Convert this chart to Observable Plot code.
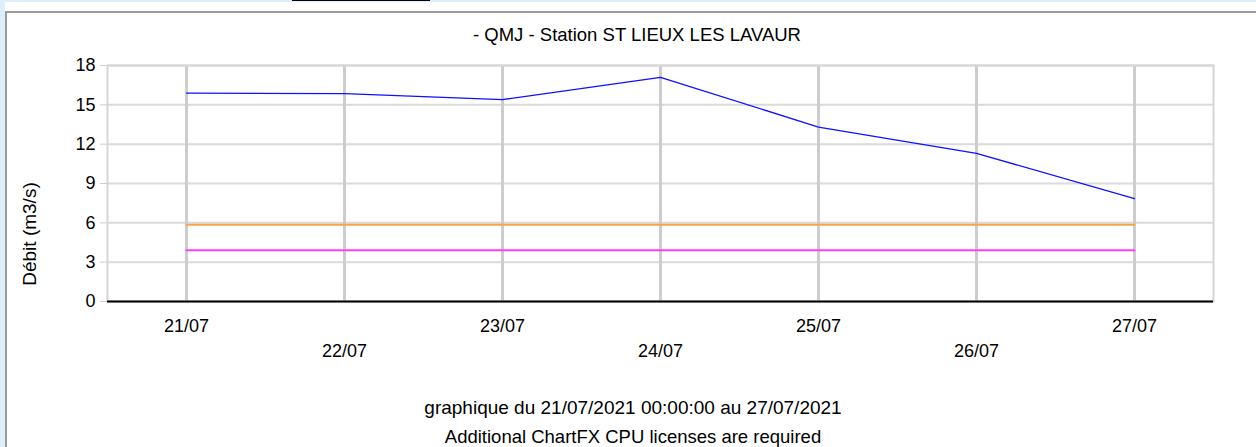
<!DOCTYPE html>
<html>
<head>
<meta charset="utf-8">
<script src="https://cdn.jsdelivr.net/npm/d3@7"></script>
<script src="https://cdn.jsdelivr.net/npm/@observablehq/plot@0.6"></script>
<style>
  html, body { margin: 0; padding: 0; width: 1256px; height: 447px; overflow: hidden; background: #ddeefc; font-family: "Liberation Sans", Arial, sans-serif; }
  #topwhite { position: absolute; left: 5px; top: 2px; right: 0; height: 9px; background: #ffffff; }
  #uline { position: absolute; left: 292px; top: 0px; width: 138px; height: 1px; background: #000; }
  #frame { position: absolute; left: 5px; top: 11px; right: 0; bottom: 0; background: #fff; border-left: 2px solid #9a9a9a; border-top: 2px solid #9a9a9a; }
  #chart { position: absolute; left: 7px; top: 13px; }
  #chart svg { background: transparent !important; }
  .txt { position: absolute; color: #000; white-space: nowrap; text-align: center; }
  #title { left: 0; width: 1274px; top: 25px; font-size: 18.5px; line-height: 20px; }
  #ylabel { left: 30px; top: 234px; font-size: 19px; line-height: 20px; transform: translate(-50%, -50%) rotate(-90deg); }
  #cap1 { left: 0; width: 1266px; top: 398px; font-size: 19px; line-height: 20px; }
  #cap2 { left: 0; width: 1266px; top: 427px; font-size: 18.5px; line-height: 19px; }
</style>
</head>
<body>
<div id="topwhite"></div>
<div id="uline"></div>
<div id="frame"></div>
<div id="chart"></div>
<div class="txt" id="title">- QMJ - Station ST LIEUX LES LAVAUR</div>
<div class="txt" id="ylabel">Débit (m3/s)</div>
<div class="txt" id="cap1">graphique du 21/07/2021 00:00:00 au 27/07/2021</div>
<div class="txt" id="cap2">Additional ChartFX CPU licenses are required</div>
<script>
// ---- data ----
const days = ["21/07", "22/07", "23/07", "24/07", "25/07", "26/07", "27/07"];
const qmj = [15.9, 15.85, 15.4, 17.1, 13.3, 11.3, 7.85];
const seuilOrange = [5.85, 5.85, 5.85, 5.85, 5.85, 5.85, 5.85];
const seuilRose = [3.9, 3.9, 3.9, 3.9, 3.9, 3.9, 3.9];
const yTicks = [0, 3, 6, 9, 12, 15, 18];
const xTicksRow1 = ["21/07", "23/07", "25/07", "27/07"];
const xTicksRow2 = ["22/07", "24/07", "26/07"];

const rows = (vals) => days.map((d, i) => ({day: d, v: vals[i]}));

const chart = Plot.plot({
  width: 1249,
  height: 357,
  marginLeft: 100,
  marginRight: 43,
  marginTop: 52,
  marginBottom: 69,
  style: {fontFamily: "Liberation Sans, Arial, sans-serif", fontSize: "18px", color: "#000", background: "transparent"},
  x: {type: "point", domain: days, padding: 0.5},
  y: {domain: [0, 18]},
  marks: [
    Plot.gridY(yTicks, {stroke: "#dadada", strokeWidth: 2, strokeOpacity: 1}),
    Plot.gridX(days, {stroke: "#cdcdcd", strokeWidth: 3, strokeOpacity: 1}),
    Plot.frame({stroke: "#d6d6d6", strokeWidth: 2}),
    Plot.line(rows(seuilOrange), {x: "day", y: "v", stroke: "#f7a545", strokeWidth: 2}),
    Plot.line(rows(seuilRose), {x: "day", y: "v", stroke: "#ff3cff", strokeWidth: 2}),
    Plot.line(rows(qmj), {x: "day", y: "v", stroke: "#1010ff", strokeWidth: 1.3}),
    Plot.ruleY([0], {stroke: "#000", strokeWidth: 2}),
    Plot.axisY(yTicks, {tickSize: 7, tickPadding: 5, stroke: "#cfcfcf", fontSize: 18, label: null}),
    Plot.axisX(xTicksRow1, {tickSize: 0, tickPadding: 18, fontSize: 18, label: null}),
    Plot.axisX(xTicksRow2, {tickSize: 0, tickPadding: 43, fontSize: 18, label: null})
  ]
});
document.getElementById("chart").appendChild(chart);
</script>
</body>
</html>
